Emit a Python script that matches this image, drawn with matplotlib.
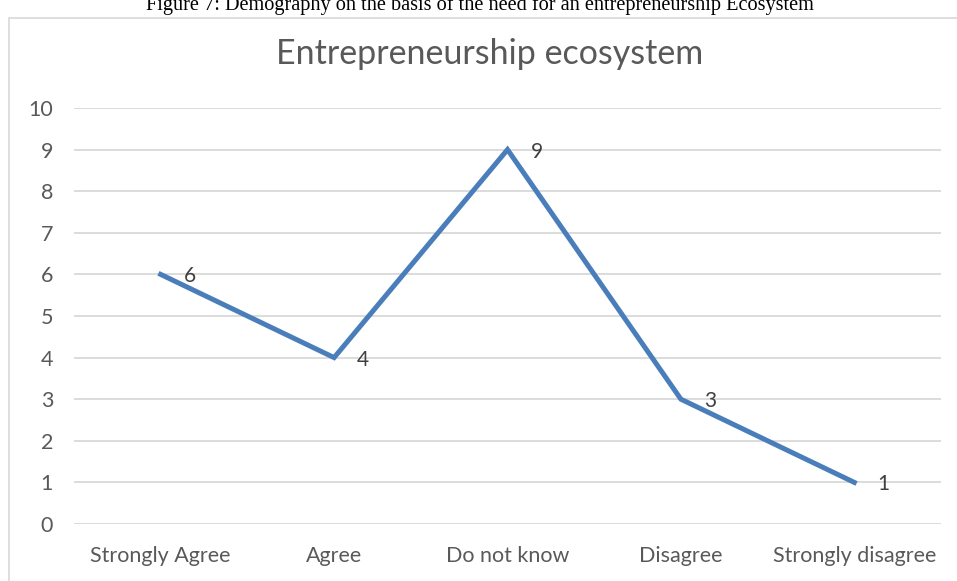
import matplotlib.pyplot as plt
from matplotlib.patches import Rectangle

# Survey responses on the need for an entrepreneurship ecosystem
categories = ["Strongly Agree", "Agree", "Do not know", "Disagree", "Strongly disagree"]
counts = [6, 4, 9, 3, 1]
y_ticks = list(range(0, 11))

LINE = "#4A7EBB"
GRID = "#D9D9D9"
TEXT = "#595959"
FONT = ["Lato", "DejaVu Sans"]

W, H = 957, 581
fig = plt.figure(figsize=(W / 100, H / 100), dpi=100)

# chart frame (runs off the right and bottom edges)
fig.patches.append(Rectangle((9 / W, -0.05), 1.2, 1 - 18 / H + 0.05,
                             transform=fig.transFigure, fill=False,
                             edgecolor=GRID, linewidth=1.2))

# figure caption, partly cut off at the top
fig.text(480 / W, 1 - 10 / H, "Figure 7: Demography on the basis of the need for an entrepreneurship Ecosystem",
         ha="center", va="baseline", family="Liberation Serif", fontsize=14.6, color="black")

ax = fig.add_axes([74 / W, 1 - 524 / H, (941 - 74) / W, (524 - 108) / H])
x = list(range(len(categories)))
ax.plot(x, counts, color=LINE, linewidth=3.6, solid_joinstyle="miter")
for xi, v in zip(x, counts):
    ax.annotate(str(v), (xi, v), xytext=(29, -2), textcoords="offset pixels",
                ha="center", va="center", fontsize=15, color="#404040", family=FONT)

ax.set_xlim(-0.5, len(categories) - 0.5)
ax.set_ylim(0, 10)
ax.set_yticks(y_ticks)
ax.set_xticks(x)
ax.set_xticklabels(categories)
ax.grid(axis="y", color=GRID, linewidth=1.3)
ax.set_axisbelow(True)
for s in ax.spines.values():
    s.set_visible(False)
ax.tick_params(length=0, colors=TEXT, labelsize=15.5)
ax.tick_params(axis="y", pad=15)
ax.tick_params(axis="x", pad=16)
for lab in ax.get_xticklabels() + ax.get_yticklabels():
    lab.set_family(FONT)

fig.text(490 / W, 1 - 54 / H, "Entrepreneurship ecosystem", ha="center", va="center",
         fontsize=24.5, color=TEXT, family=FONT)

fig.savefig("out.png", dpi=100)
